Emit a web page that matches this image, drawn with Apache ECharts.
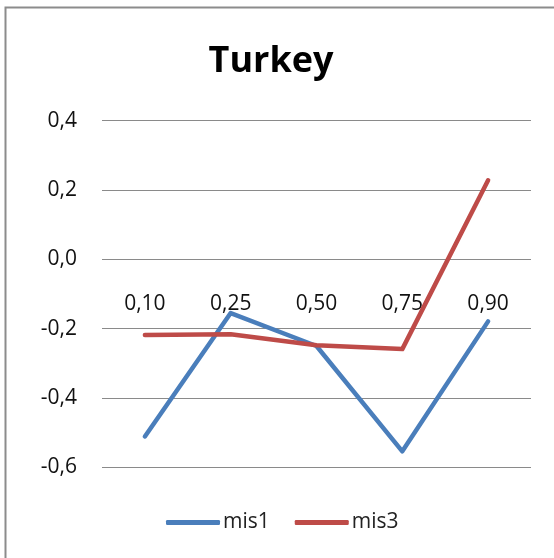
<!DOCTYPE html>
<html>
<head>
<meta charset="utf-8">
<script src="https://cdn.jsdelivr.net/npm/echarts@6/dist/echarts.min.js"></script>
<style>
  html, body { margin: 0; padding: 0; background: #fff; }
  #chart { width: 554px; height: 558px; }
</style>
</head>
<body>
<div id="chart"></div>
<script>
// Quantile levels on the category axis
const quantiles = ['0,10', '0,25', '0,50', '0,75', '0,90'];
// Series values per quantile
const mis1 = [-0.511, -0.155, -0.250, -0.554, -0.179];
const mis3 = [-0.218, -0.216, -0.248, -0.259, 0.228];
// Value axis range and step
const yMin = -0.6, yMax = 0.4, yStep = 0.2;

const font = '"Open Sans", "Noto Sans", sans-serif';
const fmt = v => v.toFixed(1).replace('.', ',');

const gridTop = 120.7, gridBottom = 90.7, chartH = 558;
// distance from the plot bottom up to the zero line, so the category axis sits on zero
const plotH = chartH - gridTop - gridBottom;
const zeroLift = plotH * (0 - yMin) / (yMax - yMin);

const chart = echarts.init(document.getElementById('chart'), null, { renderer: 'canvas' });
chart.setOption({
  backgroundColor: '#ffffff',
  animation: false,
  graphic: [{
    type: 'rect',
    shape: { x: 5.5, y: 7.5, width: 700, height: 700 },
    style: { fill: 'none', stroke: '#8c8c8c', lineWidth: 2 },
    silent: true
  }],
  title: {
    text: 'Turkey',
    left: 266, top: 39, textAlign: 'center',
    textStyle: { fontFamily: font, fontWeight: 'bold', fontSize: 36, color: '#000' }
  },
  grid: { left: 102, right: 23, top: gridTop, bottom: gridBottom, containLabel: false },
  legend: {
    left: 161, top: 507,
    icon: 'roundRect',
    itemWidth: 54, itemHeight: 5, itemGap: 25,
    textStyle: { fontFamily: font, fontSize: 21, color: '#222', padding: [0, 0, 0, -2] },
    data: ['mis1', 'mis3']
  },
  xAxis: {
    type: 'category',
    data: quantiles,
    boundaryGap: true,
    position: 'bottom',
    offset: -zeroLift,
    axisLine: { show: false, onZero: false },
    axisTick: { show: false },
    axisLabel: { margin: 34, fontFamily: font, fontSize: 21, color: '#111' },
    splitLine: { show: false }
  },
  yAxis: {
    type: 'value',
    min: yMin, max: yMax, interval: yStep,
    axisLine: { show: false },
    axisTick: { show: false },
    axisLabel: { margin: 25, fontFamily: font, fontSize: 21, color: '#111', formatter: fmt },
    splitLine: { lineStyle: { color: '#8a8a8a', width: 1 } }
  },
  series: [
    {
      name: 'mis1', type: 'line', data: mis1, symbol: 'none',
      color: '#4a7ebb',
      lineStyle: { width: 4.5, color: '#4a7ebb', cap: 'round', join: 'round' }
    },
    {
      name: 'mis3', type: 'line', data: mis3, symbol: 'none',
      color: '#be4b48',
      lineStyle: { width: 4.5, color: '#be4b48', cap: 'round', join: 'round' }
    }
  ]
});
</script>
</body>
</html>
